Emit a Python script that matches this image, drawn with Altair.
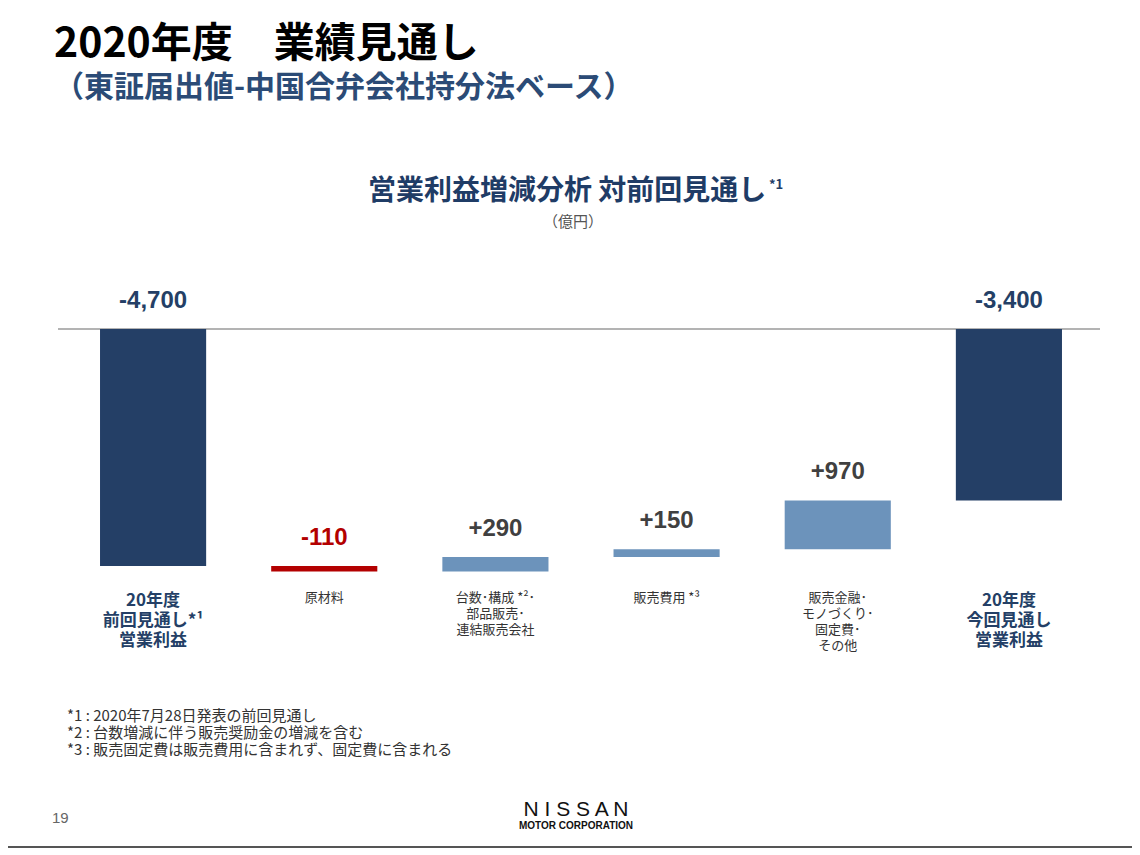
import altair as alt
import pandas as pd

# ---- data ----
categories = ["prev_total", "raw", "volume", "selling", "other", "new_total"]
cat_labels = [
    "20年度\n前回見通し*¹\n営業利益",
    "原材料",
    "台数･構成 *²･\n部品販売･\n連結販売会社",
    "販売費用 *³",
    "販売金融･\nモノづくり･\n固定費･\nその他",
    "20年度\n今回見通し\n営業利益",
]
values = [-4700, -110, 290, 150, 970, -3400]
kinds = ["total", "neg", "pos", "pos", "pos", "total"]
value_labels = ["-4,700", "-110", "+290", "+150", "+970", "-3,400"]

TITLE = "2020年度　業績見通し"
SUBTITLE = "（東証届出値-中国合弁会社持分法ベース）"
CHART_TITLE = "営業利益増減分析 対前回見通し"
CHART_TITLE_SUP = "*1"
UNIT = "（億円）"
FOOTNOTES = "*1 : 2020年7月28日発表の前回見通し\n*2 : 台数増減に伴う販売奨励金の増減を含む\n*3 : 販売固定費は販売費用に含まれず、固定費に含まれる"
PAGE_NO = "19"
LOGO = "N I S S A N"
LOGO_SUB = "MOTOR CORPORATION"

# ---- waterfall table ----
starts, ends = [], []
running = 0
for v, k in zip(values, kinds):
    if k == "total":
        starts.append(0)
        ends.append(v)
        running = v
    else:
        starts.append(running)
        running += v
        ends.append(running)

df = pd.DataFrame({
    "cat": categories,
    "label": cat_labels,
    "value": values,
    "kind": kinds,
    "vlabel": value_labels,
    "start": starts,
    "end": ends,
})
df["top"] = df[["start", "end"]].max(axis=1)
df["lkind"] = df["kind"].map({"total": "l_total", "neg": "l_neg", "pos": "l_pos"})

W, H = 1124, 840
xscale = alt.Scale(domain=categories, range=[59.5, 1086.5], paddingInner=0.38, paddingOuter=0.19)
yscale = alt.Scale(domain=[-4700, 0], range=[558, 321], nice=False, zero=False)

X = alt.X("cat:N", scale=xscale, axis=None)
FONT = "Noto Sans CJK JP"

base = alt.Chart(df)

bars = base.mark_bar().encode(
    x=X,
    y=alt.Y("start:Q", scale=yscale, axis=None),
    y2="end:Q",
    color=alt.Color("kind:N", scale=alt.Scale(domain=["total", "neg", "pos"],
                                              range=["#243f66", "#b30000", "#6c93bb"]), legend=None),
)

vlabels = base.mark_text(font="Liberation Sans", fontWeight="bold", fontSize=24,
                         baseline="alphabetic", dy=-21).encode(
    x=X,
    y=alt.Y("top:Q", scale=yscale, axis=None),
    text="vlabel:N",
    fill=alt.Fill("lkind:N", scale=alt.Scale(domain=["l_total", "l_neg", "l_pos"],
                                             range=["#243f66", "#b30000", "#404040"]), legend=None),
)

zero_rule = alt.Chart(pd.DataFrame({"z": [0]})).mark_rule(color="#9a9a9a", strokeWidth=1.5).encode(
    y=alt.Y("z:Q", scale=yscale, axis=None),
    x=alt.value(50), x2=alt.value(1092),
)

total_labels = base.transform_filter(alt.datum.kind == "total").mark_text(
    font=FONT, fontWeight="bold", fontSize=17, lineHeight=20, baseline="top",
    color="#243f66", lineBreak="\n").encode(
    x=X, y=alt.value(585), text="label:N")

delta_labels = base.transform_filter(alt.datum.kind != "total").mark_text(
    font=FONT, fontSize=13, lineHeight=16, baseline="top",
    color="#333333", lineBreak="\n").encode(
    x=X, y=alt.value(584), text="label:N")


def deco(text, x, y, size, color, weight="normal", align="left", font=FONT, line_height=None, baseline="middle"):
    kw = dict(font=font, fontSize=size, color=color, fontWeight=weight, align=align,
              baseline=baseline, lineBreak="\n")
    if line_height:
        kw["lineHeight"] = line_height
    return alt.Chart(pd.DataFrame({"t": [text]})).mark_text(**kw).encode(
        text="t:N", x=alt.value(x), y=alt.value(y))


title = deco(TITLE, 46, 37, 41, "#000000", weight="bold")
subtitle = deco(SUBTITLE, 46, 80, 30, "#2b4b76", weight="bold")
ctitle = deco(CHART_TITLE, 360, 184, 28, "#1f3c66", weight="bold")
ctitle_sup = deco(CHART_TITLE_SUP, 761, 177, 13, "#1f3c66", weight="bold")
unit = deco(UNIT, 565, 214, 15, "#555555", align="center")
foot = deco(FOOTNOTES, 59, 701, 15, "#333333", line_height=17, baseline="top")
page = deco(PAGE_NO, 44, 810, 15, "#666666", font="Liberation Sans")
logo = deco(LOGO, 568, 802, 21, "#111111", align="center", font="Liberation Sans")
logo_sub = deco(LOGO_SUB, 568, 818, 10, "#111111", weight="bold", align="center", font="Liberation Sans")
bottom_rule = alt.Chart(pd.DataFrame({"z": [0]})).mark_rule(color="#555555", strokeWidth=2).encode(
    y=alt.value(839), x=alt.value(0), x2=alt.value(W))

chart = alt.layer(
    zero_rule, bars, vlabels, total_labels, delta_labels,
    title, subtitle, ctitle, ctitle_sup, unit, foot, page, logo, logo_sub, bottom_rule,
).resolve_scale(color="independent").properties(
    width=W, height=H, padding=0, autosize=alt.AutoSizeParams(type="none"),
).configure_view(stroke=None)

chart.save("out.html", embed_options={"renderer": "svg", "actions": False})
